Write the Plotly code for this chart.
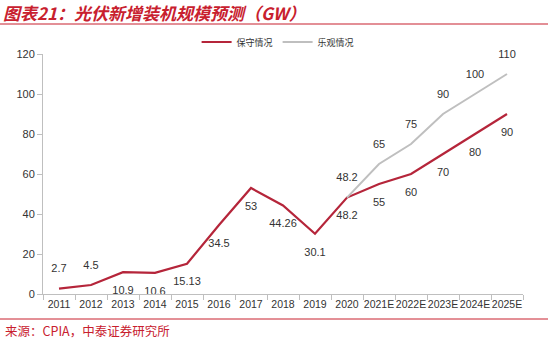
import plotly.graph_objects as go

categories = ["2011", "2012", "2013", "2014", "2015", "2016", "2017", "2018", "2019", "2020",
              "2021E", "2022E", "2023E", "2024E", "2025E"]
conservative = [2.7, 4.5, 10.9, 10.6, 15.13, 34.5, 53, 44.26, 30.1, 48.2, 55, 60, 70, 80, 90]
optimistic = [None, None, None, None, None, None, None, None, None, 48.2, 65, 75, 90, 100, 110]
cons_labels = ["2.7", "4.5", "10.9", "10.6", "15.13", "34.5", "53", "44.26", "30.1", "48.2",
               "55", "60", "70", "80", "90"]
opt_labels = ["", "", "", "", "", "", "", "", "", "48.2", "65", "75", "90", "100", "110"]
yticks = [0, 20, 40, 60, 80, 100, 120]

RED = "#B5253A"
GRAY = "#BFBFBF"
TXT = "#333333"
FONT = "Liberation Sans, Arial, sans-serif"

fig = go.Figure()
# lines
fig.add_trace(go.Scatter(
    x=categories, y=conservative, name="保守情况", mode="lines",
    line=dict(color=RED, width=2.2), cliponaxis=False,
))
fig.add_trace(go.Scatter(
    x=categories, y=optimistic, name="乐观情况", mode="lines",
    line=dict(color=GRAY, width=2), connectgaps=False, cliponaxis=False,
))
# data labels (invisible markers used only to offset the text)
fig.add_trace(go.Scatter(
    x=categories, y=conservative, mode="markers+text", showlegend=False,
    marker=dict(size=20, opacity=0, color=RED),
    text=cons_labels,
    textposition=["top center", "top center"] + ["bottom center"] * 13,
    textfont=dict(size=11, color=TXT, family=FONT),
    cliponaxis=False, hoverinfo="skip",
))
fig.add_trace(go.Scatter(
    x=categories, y=optimistic, mode="markers+text", showlegend=False,
    marker=dict(size=20, opacity=0, color=GRAY),
    text=opt_labels, textposition="top center",
    textfont=dict(size=11, color=TXT, family=FONT),
    cliponaxis=False, hoverinfo="skip",
))

fig.update_layout(
    width=554, height=339,
    margin=dict(l=43, r=31, t=54, b=45),
    paper_bgcolor="white", plot_bgcolor="white",
    font=dict(family=FONT, color=TXT, size=11),
    showlegend=True,
    legend=dict(orientation="h", x=0.32, y=1.05, xanchor="left", yanchor="middle",
                font=dict(size=9, color=TXT, family="Noto Sans CJK SC"),
                itemwidth=30, bgcolor="rgba(0,0,0,0)", tracegroupgap=0),
    xaxis=dict(type="category", range=[-0.5, 14.5], showgrid=False, showline=True,
               linecolor="#BFBFBF", linewidth=1, ticks="outside", tickson="boundaries",
               ticklen=5, tickcolor="#BFBFBF", tickangle=0,
               tickfont=dict(size=10.5, color=TXT, family=FONT),
               fixedrange=True),
    yaxis=dict(range=[0, 120], tickvals=yticks, showgrid=False, showline=True,
               linecolor="#BFBFBF", linewidth=1, ticks="outside", ticklen=5,
               tickcolor="#BFBFBF", tickfont=dict(size=11, color=TXT, family=FONT),
               zeroline=False, fixedrange=True),
    annotations=[
        dict(text="<b><i>图表21：光伏新增装机规模预测（GW）</i></b>", xref="paper", yref="paper",
             x=-42 / 480, y=(294 - 13) / 240, xanchor="left", yanchor="middle", showarrow=False,
             font=dict(size=17, color="#C8202E", family="Noto Sans CJK SC")),
        dict(text="来源：CPIA，中泰证券研究所", xref="paper", yref="paper",
             x=-40 / 480, y=(294 - 330) / 240, xanchor="left", yanchor="middle", showarrow=False,
             font=dict(size=12.5, color="#C8202E", family="Noto Sans CJK SC")),
    ],
    shapes=[
        dict(type="line", xref="paper", yref="paper", x0=-43 / 480, x1=(548 - 43) / 480,
             y0=(294 - 24) / 240, y1=(294 - 24) / 240, line=dict(color="#C8202E", width=1.2)),
        dict(type="line", xref="paper", yref="paper", x0=-43 / 480, x1=(548 - 43) / 480,
             y0=(294 - 319) / 240, y1=(294 - 319) / 240, line=dict(color="#C8202E", width=1)),
    ],
)

fig.write_html("out.html")
